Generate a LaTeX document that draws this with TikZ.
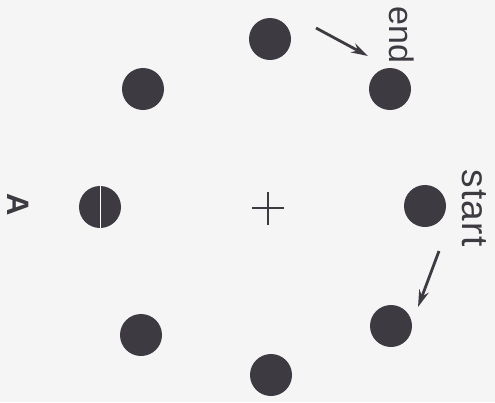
\documentclass[tikz,border=0pt]{standalone}
\usepackage{fontspec}
\setmainfont{Liberation Sans}
\usetikzlibrary{arrows.meta}
\definecolor{dotgray}{HTML}{3E3A41}
\definecolor{paper}{HTML}{F6F5F6}
\begin{document}
\begin{tikzpicture}[x=1pt,y=-1pt,
  dot/.style={circle,fill=dotgray,inner sep=0pt,minimum size=42pt},
  lbl/.style={text=dotgray,rotate=-90,font=\fontsize{37}{42}\selectfont},
  pointer/.style={-{Stealth[length=17pt,width=10pt]},line width=2.8pt,dotgray}]
  \fill[paper] (0,0) rectangle (495,402);
  \node[dot] (top) at (270,39) {};
  \node[dot] (ul) at (143,89) {};
  \node[dot] (ur) at (390,89) {};
  \node[dot] (lt) at (100,207) {};
  \node[dot] (rt) at (425,206) {};
  \node[dot] (ll) at (141,335) {};
  \node[dot] (lr) at (391,326) {};
  \node[dot] (bot) at (271,375) {};
  \draw[white,line width=0.8pt] (lt.north) -- (lt.south);
  \node (centre) at (268,208) {};
  \draw[dotgray,line width=2.8pt] (252,208) -- (284,208) (268,192) -- (268,225);
  \node[text=dotgray,rotate=-90,font=\bfseries\fontsize{31}{36}\selectfont] (A) at (18,205) {A};
  \node[lbl,font=\fontsize{34}{40}\selectfont] (end) at (402,35) {end};
  \node[lbl] (start) at (474,208) {\addfontfeature{LetterSpace=4}start};
  \coordinate (e0) at (316,28);
  \coordinate (e1) at (368,56);
  \coordinate (s0) at (439,251);
  \coordinate (s1) at (418,307);
  \draw[pointer] (e0) -- (e1);
  \draw[pointer] (s0) -- (s1);
\end{tikzpicture}
\end{document}
